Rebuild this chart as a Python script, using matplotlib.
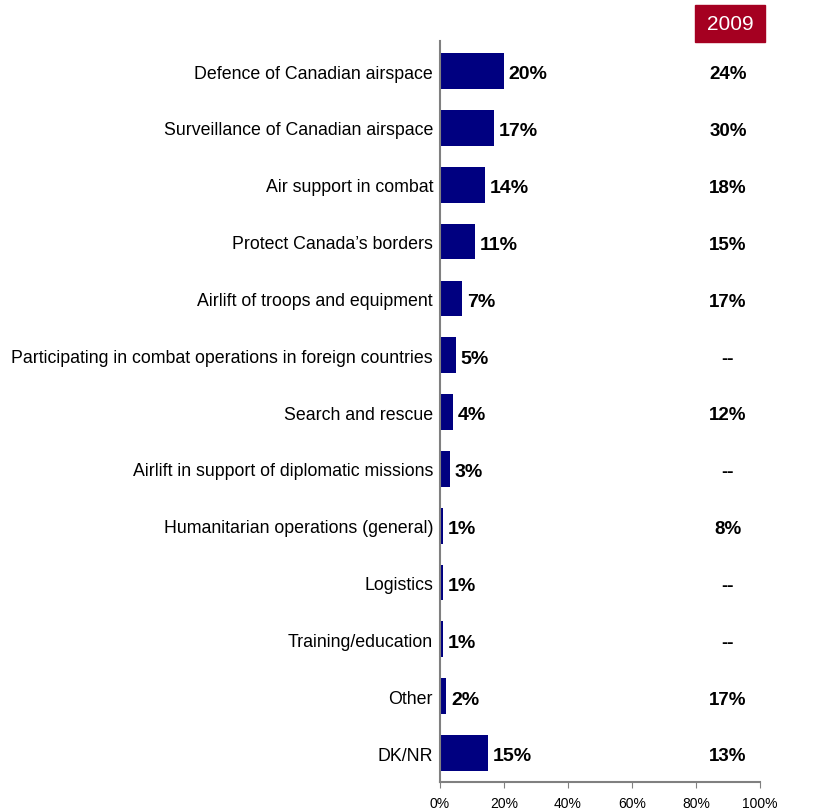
import matplotlib.pyplot as plt
from matplotlib.patches import Rectangle

# Datos
categorias = ['Defence of Canadian airspace', 'Surveillance of Canadian airspace',
              'Air support in combat', "Protect Canada\u2019s borders",
              'Airlift of troops and equipment',
              'Participating in combat operations in foreign countries',
              'Search and rescue', 'Airlift in support of diplomatic missions',
              'Humanitarian operations (general)', 'Logistics', 'Training/education',
              'Other', 'DK/NR']
valores = [20, 17, 14, 11, 7, 5, 4, 3, 1, 1, 1, 2, 15]
valores_2009 = ['24%', '30%', '18%', '15%', '17%', '--', '12%', '--', '8%', '--', '--', '17%', '13%']
ticks_x = [0, 20, 40, 60, 80, 100]

plt.rcParams['font.family'] = ['Liberation Sans', 'DejaVu Sans']

fig = plt.figure(figsize=(8.25, 8.12), dpi=100)
ax = fig.add_axes([440/825, 1 - 783/812, 320/825, 741/812])

y = list(range(len(categorias)))
ax.barh(y, valores, height=0.63, color='#000080')

for i, v in enumerate(valores):
    ax.text(v + 1.5, i + 0.05, f'{v}%', va='center', ha='left',
            fontsize=14, fontweight='bold')
    ax.text(90, i + 0.05, valores_2009[i], va='center', ha='center',
            fontsize=13.5, fontweight='bold')

ax.set_xlim(0, 100)
ax.set_ylim(len(categorias) - 0.49, -0.53)
ax.set_yticks(y)
ax.set_yticklabels(categorias, fontsize=12.8)
ax.tick_params(axis='y', length=0, pad=5)
ax.set_xticks(ticks_x)
ax.set_xticklabels([f'{t}%' for t in ticks_x], fontsize=10)
ax.tick_params(axis='x', length=4, color='#808080', pad=6)

for lado in ['top', 'right']:
    ax.spines[lado].set_visible(False)
ax.spines['left'].set_color('#808080')
ax.spines['bottom'].set_color('#808080')
ax.spines['left'].set_linewidth(1.5)
ax.spines['bottom'].set_linewidth(1.5)

# Caja del año 2009
fig.patches.append(Rectangle((695/825, 1 - 43/812), 70/825, 37/812,
                             transform=fig.transFigure, color='#A50021'))
fig.text(730/825, 1 - 24.5/812, '2009', color='white', fontsize=15,
         ha='center', va='center')

fig.savefig('out.png', dpi=100)
